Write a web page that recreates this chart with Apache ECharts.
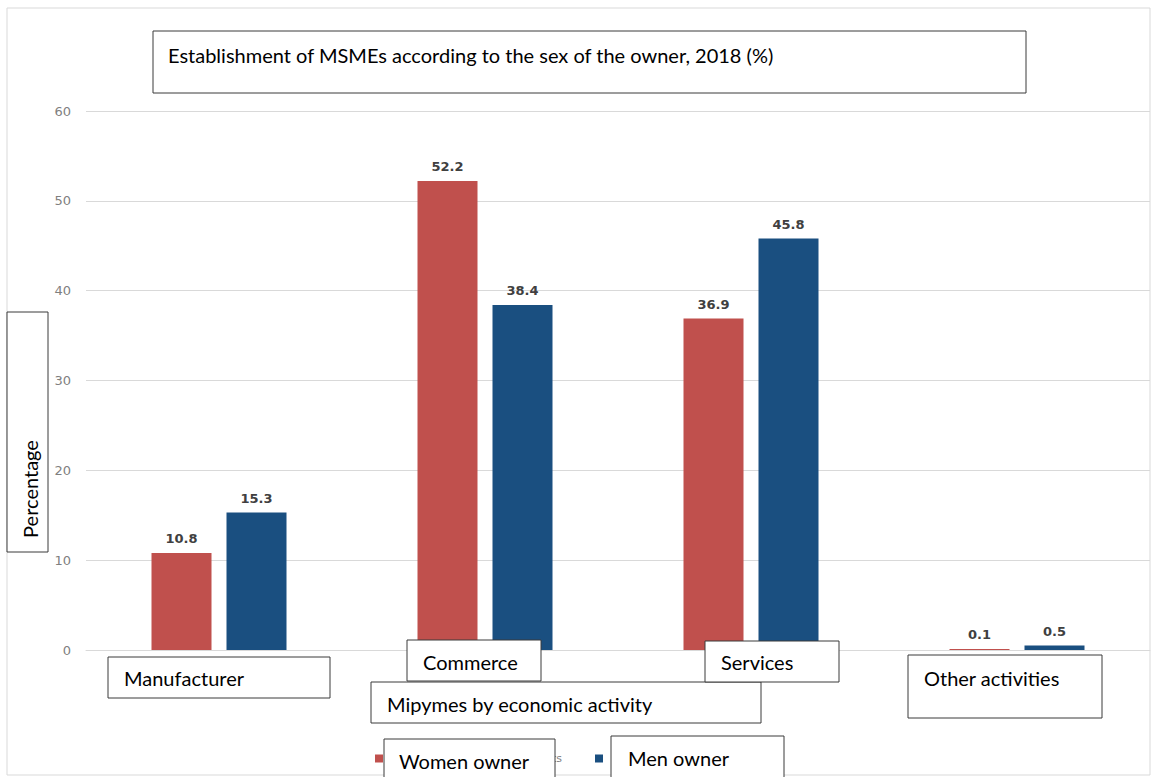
<!DOCTYPE html>
<html>
<head>
<meta charset="utf-8">
<script src="https://cdn.jsdelivr.net/npm/echarts@6/dist/echarts.min.js"></script>
<style>html,body{margin:0;padding:0;background:#fff}#c{width:1154px;height:777px}</style>
</head>
<body>
<div id="c"></div>
<script>
const categories = ['Manufacturer', 'Commerce', 'Services', 'Other activities'];
const seriesNames = ['Women-owned establishments', 'Men-owned establishments'];
const womenValues = [10.8, 52.2, 36.9, 0.1];
const menValues = [15.3, 38.4, 45.8, 0.5];
const titleText = 'Establishment of MSMEs according to the sex of the owner, 2018 (%)';
const yAxisTitle = 'Percentage';
const xAxisTitle = 'Mipymes by economic activity';
const legendBoxLabels = ['Women owner', 'Men owner'];

const FONT = 'Lato';
const chart = echarts.init(document.getElementById('c'), null, {renderer: 'svg'});

function box(x, y, w, h, text, tx, ty, opts) {
  opts = opts || {};
  return {
    type: 'group', z: 100,
    children: [
      {type: 'rect', shape: {x: x, y: y, width: w, height: h}, style: {fill: '#fff', stroke: '#3a3a3a', lineWidth: 1}, z: 100},
      {type: 'text', x: tx, y: ty, rotation: opts.rotation || 0, z: 101,
       style: {text: text, fill: '#000', font: '20px ' + FONT, textAlign: opts.align || 'left', textVerticalAlign: 'middle'}}
    ]
  };
}

const labelStyle = {show: true, position: 'top', distance: 8, color: '#404040', fontWeight: 'bold', fontSize: 13, fontFamily: 'DejaVu Sans'};

const option = {
  backgroundColor: '#fff',
  animation: false,
  grid: {left: 86, right: 4, top: 111, bottom: 127},
  xAxis: {
    type: 'category', data: categories,
    axisLine: {show: true, lineStyle: {color: '#d9d9d9'}},
    axisTick: {show: false},
    axisLabel: {show: false}
  },
  yAxis: {
    type: 'value', min: 0, max: 60, interval: 10,
    axisLine: {show: false}, axisTick: {show: false},
    axisLabel: {color: '#7f7f7f', fontFamily: 'DejaVu Sans', fontSize: 13, margin: 15},
    splitLine: {lineStyle: {color: '#d9d9d9', width: 1}}
  },
  legend: {
    left: 370, top: 748, itemWidth: 8, itemHeight: 8, itemGap: 33, icon: 'rect',
    data: seriesNames,
    formatter: function (n) { return '{a|' + n + '}'; },
    textStyle: {color: '#7f7f7f', fontSize: 11, fontFamily: 'DejaVu Sans',
      rich: {a: {width: 174, align: 'right', color: '#7f7f7f', fontSize: 11, fontFamily: 'DejaVu Sans'}}}
  },
  series: [
    {name: seriesNames[0], type: 'bar', data: womenValues, barWidth: 60, barGap: '25%',
     itemStyle: {color: '#C0504D'}, label: labelStyle},
    {name: seriesNames[1], type: 'bar', data: menValues, barWidth: 60,
     itemStyle: {color: '#1A4F80'}, label: labelStyle}
  ],
  graphic: [
    {type: 'rect', z: 90, shape: {x: 7, y: 8, width: 1143, height: 767}, style: {fill: 'none', stroke: '#d9d9d9', lineWidth: 1}},
    box(153, 31, 873, 62, titleText, 168, 55),
    box(7, 312, 41, 240, yAxisTitle, 30, 489, {rotation: Math.PI / 2, align: 'center'}),
    box(108, 657, 222, 41, categories[0], 124, 678),
    box(407, 640, 134, 41, categories[1], 423, 662),
    box(371, 682, 390, 41, xAxisTitle, 387, 704),
    box(705, 641, 134, 41, categories[2], 721, 662),
    box(908, 655, 194, 63, categories[3], 924, 678),
    box(384, 739, 171, 45, legendBoxLabels[0], 399, 761),
    box(611, 736, 173, 48, legendBoxLabels[1], 628, 758)
  ]
};
chart.setOption(option);
</script>
</body>
</html>
